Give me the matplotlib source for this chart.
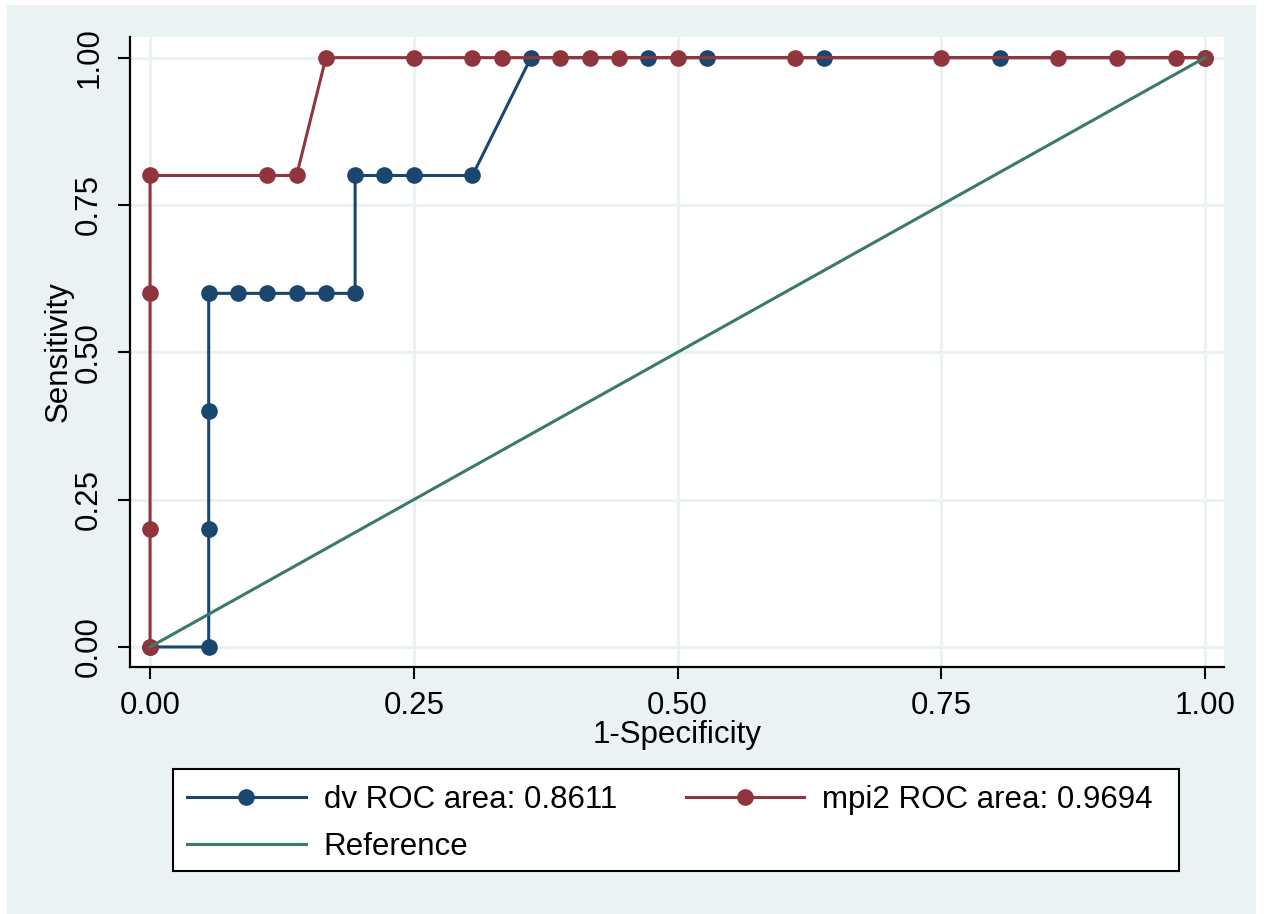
import matplotlib
matplotlib.use("Agg")
import matplotlib.pyplot as plt
from matplotlib.lines import Line2D
from matplotlib.patches import Rectangle

# ROC coordinates (1-specificity, sensitivity)
dv_fpr = [0.0, 0.0556, 0.0556, 0.0556, 0.0556, 0.0833, 0.1111, 0.1389, 0.1667,
          0.1944, 0.1944, 0.2222, 0.25, 0.3056, 0.3611, 0.4722, 0.5278, 0.6389,
          0.8056, 1.0]
dv_tpr = [0.0, 0.0, 0.2, 0.4, 0.6, 0.6, 0.6, 0.6, 0.6,
          0.6, 0.8, 0.8, 0.8, 0.8, 1.0, 1.0, 1.0, 1.0,
          1.0, 1.0]

mpi2_fpr = [0.0, 0.0, 0.0, 0.0, 0.1111, 0.1389, 0.1667, 0.25, 0.3056, 0.3333,
            0.3889, 0.4167, 0.4444, 0.5, 0.6111, 0.75, 0.8611, 0.9167, 0.9722, 1.0]
mpi2_tpr = [0.0, 0.2, 0.6, 0.8, 0.8, 0.8, 1.0, 1.0, 1.0, 1.0,
            1.0, 1.0, 1.0, 1.0, 1.0, 1.0, 1.0, 1.0, 1.0, 1.0]

ref_x = [0.0, 1.0]
ref_y = [0.0, 1.0]

dv_label = "dv ROC area: 0.8611"
mpi2_label = "mpi2 ROC area: 0.9694"
ref_label = "Reference"

ticks = [0.0, 0.25, 0.5, 0.75, 1.0]
tick_labels = ["0.00", "0.25", "0.50", "0.75", "1.00"]

BG = "#eaf2f3"
NAVY = "#1a476f"
MAROON = "#90353b"
TEAL = "#3a7a6b"

plt.rcParams["font.family"] = ["Liberation Sans", "DejaVu Sans"]
FS = 22.5

W, H = 1264, 914
fig = plt.figure(figsize=(W / 100, H / 100), dpi=100, facecolor="white")

# outer graph region
fig.patches.append(Rectangle((7 / W, 0), 1249 / W, (H - 5) / H,
                             transform=fig.transFigure, facecolor=BG,
                             edgecolor="none", zorder=-10))

ax = fig.add_axes([130 / W, (H - 667) / H, 1094 / W, 630 / H])
ax.set_facecolor("white")

for s in ["top", "right"]:
    ax.spines[s].set_visible(False)
for s in ["left", "bottom"]:
    ax.spines[s].set_linewidth(1.6)
    ax.spines[s].set_color("black")

ax.set_xlim(-0.019, 1.018)
ax.set_ylim(-0.034, 1.035)
ax.set_xticks(ticks)
ax.set_xticklabels(tick_labels)
ax.set_yticks(ticks)
ax.set_yticklabels(tick_labels, rotation=90, va="center")
ax.tick_params(axis="both", direction="out", length=8.6, width=1.5,
               labelsize=FS, colors="black")
ax.tick_params(axis="x", pad=9)
ax.tick_params(axis="y", pad=10)
ax.grid(True, color=BG, linewidth=2.2, zorder=0)
ax.set_axisbelow(True)

lw = 2.2
ms = 12
ax.plot(dv_fpr, dv_tpr, color=NAVY, lw=lw, marker="o", ms=ms,
        markeredgewidth=0, zorder=3)
ax.plot(mpi2_fpr, mpi2_tpr, color=MAROON, lw=lw, marker="o", ms=ms,
        markeredgewidth=0, zorder=4)
ax.plot(ref_x, ref_y, color=TEAL, lw=lw, zorder=5)

ax.set_xlabel("1-Specificity", fontsize=FS)
ax.set_ylabel("Sensitivity", fontsize=FS)
ax.xaxis.label.set_va("center")
ax.yaxis.label.set_va("center")
ax.xaxis.set_label_coords(0.5, (667 - 735) / 630)
ax.yaxis.set_label_coords((58.5 - 130) / 1094, 0.5)

# legend box
fig.patches.append(Rectangle((173 / W, (H - 871) / H), 1006 / W, 102 / H,
                             transform=fig.transFigure, facecolor="white",
                             edgecolor="black", linewidth=1.5, zorder=1))

handles = [
    Line2D([], [], color=NAVY, lw=lw, marker="o", ms=ms, markeredgewidth=0),
    Line2D([], [], color=TEAL, lw=lw),
    Line2D([], [], color=MAROON, lw=lw, marker="o", ms=ms, markeredgewidth=0),
]
labels = [dv_label, ref_label, mpi2_label]
leg = fig.legend(handles, labels, ncol=2, loc="upper left",
                 bbox_to_anchor=(187 / W, (H - 785) / H),
                 frameon=False, fontsize=FS, borderpad=0, borderaxespad=0,
                 handlelength=3.8, handletextpad=0.57, columnspacing=2.2,
                 labelspacing=0.55, numpoints=1)
leg.set_zorder(2)

fig.savefig("out.png", dpi=100, facecolor="white")
